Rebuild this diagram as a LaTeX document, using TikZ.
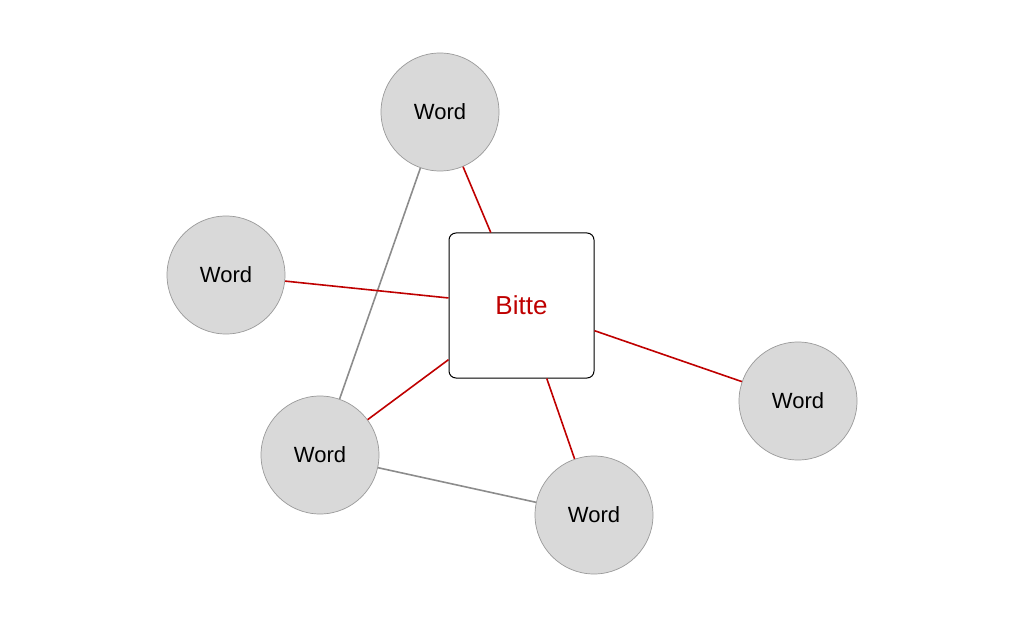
\documentclass[tikz,border=0pt]{standalone}
\usepackage{fontspec}
\setmainfont{Liberation Sans}
\begin{document}
\begin{tikzpicture}[x=1pt,y=-1pt,
  word/.style={circle,draw=black!40,fill=black!15,line width=0.7pt,minimum size=118pt,inner sep=0pt,font=\fontsize{22}{26}\selectfont},
  center/.style={draw=black,fill=white,rounded corners=7pt,line width=1pt,minimum size=145pt,inner sep=0pt,text=red!75!black,font=\fontsize{26}{30}\selectfont},
  redline/.style={draw=red!75!black,line width=1.6pt},
  grayline/.style={draw=black!45,line width=1.6pt}]
\useasboundingbox (0,0) rectangle (1024,628);
\node[word] (t) at (440,112) {Word};
\node[word] (l) at (226,275) {Word};
\node[word] (bl) at (320,455) {Word};
\node[word] (b) at (594,515) {Word};
\node[word] (r) at (798,401) {Word};
\draw[grayline] (t) -- (bl);
\draw[grayline] (bl) -- (b);
\node[center] (c) at (521.5,305.5) {Bitte};
\draw[redline] (c) -- (t);
\draw[redline] (c) -- (l);
\draw[redline] (c) -- (bl);
\draw[redline] (c) -- (b);
\draw[redline] (c) -- (r);
\end{tikzpicture}
\end{document}
